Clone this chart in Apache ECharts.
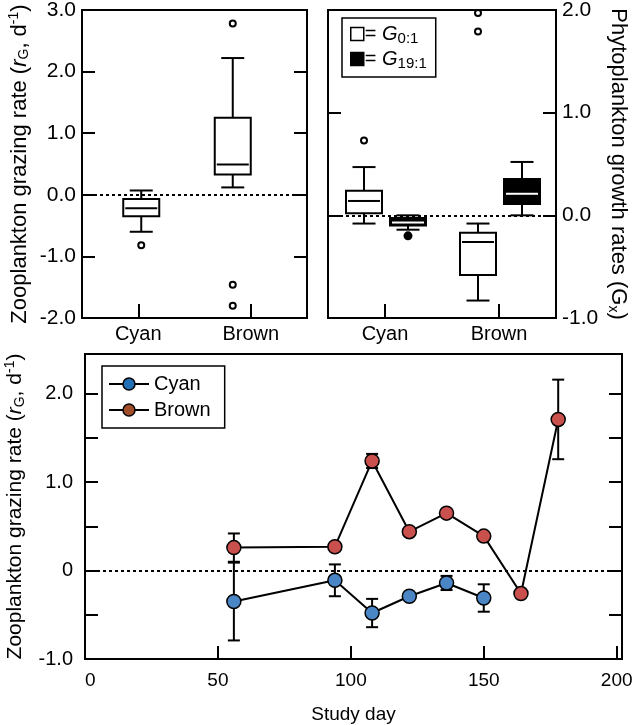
<!DOCTYPE html>
<html>
<head>
<meta charset="utf-8">
<script src="https://cdn.jsdelivr.net/npm/echarts@6/dist/echarts.min.js"></script>
<style>
  html, body { margin: 0; padding: 0; background: #fff; }
  #main { width: 632px; height: 725px; }
</style>
</head>
<body>
<div id="main"></div>
<script>
// box stats are [min, q1, median, q3, max]
const boxCats = ['Cyan', 'Brown'];
const grazeBox = [[-0.60, -0.35, -0.22, -0.07, 0.07], [0.12, 0.33, 0.49, 1.25, 2.22]];
const grazeOut = [[0, -0.82], [1, 2.78], [1, -1.46], [1, -1.80]];
const g01Box = [[-0.08, 0.02, 0.14, 0.24, 0.47], [-0.83, -0.58, -0.26, -0.17, -0.08]];
const g01Out = [[0, 0.73], [1, 1.97], [1, 1.79]];
const g191Box = [[-0.14, -0.10, -0.07, -0.025, 0.0], [0.0, 0.11, 0.21, 0.355, 0.52]];
const g191Out = [[0, -0.20]];

// time series, study day / grazing rate / error
const cyanDays = [56, 94, 108, 122, 136, 150];
const cyanRate = [-0.35, -0.11, -0.48, -0.29, -0.14, -0.31];
const cyanErr = [0.44, 0.18, 0.16, 0.03, 0.08, 0.155];
const brownDays = [56, 94, 108, 122, 136, 150, 164, 178];
const brownRate = [0.26, 0.27, 1.24, 0.44, 0.65, 0.39, -0.26, 1.71];
const brownErr = [0.16, 0.03, 0.08, 0.03, 0.03, 0.03, 0.03, 0.45];

const topTicksL = [3, 2, 1, 0, -1, -2];
const topTicksR = [2, 1, 0, -1];

var FONT = '"Liberation Sans", Arial, sans-serif';
var black = '#000';
var axLine = { show: true, onZero: false, lineStyle: { color: black, width: 2 } };
var axTick = { show: true, inside: true, length: 13, lineStyle: { color: black, width: 2 } };
var catTick = { show: true, inside: true, alignWithLabel: true, length: 14, lineStyle: { color: black, width: 2 } };
function richFor(size) {
    return {
        i: { fontSize: size, fontStyle: 'italic', color: black, fontFamily: FONT },
        sub: { fontSize: 14, color: black, padding: [10, 0, 0, 0], fontFamily: FONT },
        sup: { fontSize: 14, color: black, padding: [0, 0, 11, 0], fontFamily: FONT }
    };
}
var richLeg = {
    i: { fontSize: 20, fontStyle: 'italic', color: black, fontFamily: FONT },
    sub: { fontSize: 15, color: black, padding: [9, 0, 0, 0], fontFamily: FONT }
};
var zeroLine = {
    silent: true, symbol: 'none', label: { show: false },
    lineStyle: { color: black, width: 2, type: [3, 3] },
    data: [{ yAxis: 0 }]
};

function boxRender(shift, fill, medColor) {
    return function (params, api) {
        var ci = api.value(0);
        var x = api.coord([ci, 0])[0] + shift[ci];
        var ys = [1, 2, 3, 4, 5].map(function (d) { return api.coord([ci, api.value(d)])[1]; });
        var hw = 18, cw = 11.5;
        var ls = { stroke: black, lineWidth: 2 };
        return {
            type: 'group', children: [
                { type: 'line', shape: { x1: x, y1: ys[0], x2: x, y2: ys[4] }, style: ls },
                { type: 'line', shape: { x1: x - cw, y1: ys[0], x2: x + cw, y2: ys[0] }, style: ls },
                { type: 'line', shape: { x1: x - cw, y1: ys[4], x2: x + cw, y2: ys[4] }, style: ls },
                { type: 'rect', shape: { x: x - hw, y: ys[3], width: hw * 2, height: ys[1] - ys[3] },
                  style: { fill: fill, stroke: black, lineWidth: 2 } },
                { type: 'line', shape: { x1: x - hw + 2, y1: ys[2], x2: x + hw - 2, y2: ys[2] },
                  style: { stroke: medColor, lineWidth: 2 } }
            ]
        };
    };
}

function outRender(shift, fill, r) {
    return function (params, api) {
        var ci = api.value(0);
        var p = api.coord([ci, api.value(1)]);
        return { type: 'circle', shape: { cx: p[0] + shift[ci], cy: p[1], r: r },
                 style: { fill: fill, stroke: black, lineWidth: 2 } };
    };
}

function errRender(params, api) {
    var x = api.value(0), y = api.value(1), e = api.value(2);
    var t = api.coord([x, y + e]), b = api.coord([x, y - e]);
    var ls = { stroke: black, lineWidth: 2 };
    return {
        type: 'group', children: [
            { type: 'line', shape: { x1: t[0], y1: t[1], x2: b[0], y2: b[1] }, style: ls },
            { type: 'line', shape: { x1: t[0] - 6, y1: t[1], x2: t[0] + 6, y2: t[1] }, style: ls },
            { type: 'line', shape: { x1: b[0] - 6, y1: b[1], x2: b[0] + 6, y2: b[1] }, style: ls }
        ]
    };
}

function boxData(stats) {
    return stats.map(function (s, i) { return [i].concat(s); });
}
function zip3(a, b, c) {
    return a.map(function (v, i) { return [v, b[i], c[i]]; });
}

var gridBase = { show: true, borderColor: black, borderWidth: 2, outerBoundsMode: 'none', containLabel: false };

var option = {
    animation: false,
    textStyle: { fontFamily: FONT, color: black },
    grid: [
        Object.assign({ left: 82, top: 10, width: 225, height: 308 }, gridBase),
        Object.assign({ left: 328, top: 10, width: 228, height: 308 }, gridBase),
        Object.assign({ left: 85, top: 354, width: 537, height: 305 }, gridBase)
    ],
    legend: [
        {
            left: 342, top: 18, orient: 'vertical',
            padding: [6, 9, 6, 8], itemGap: 3, itemWidth: 13, itemHeight: 13,
            borderColor: black, borderWidth: 1.5, icon: 'rect',
            data: [
                { name: 'G0:1', itemStyle: { color: '#fff', borderColor: black, borderWidth: 1.5 } },
                { name: 'G19:1', itemStyle: { color: black, borderColor: black, borderWidth: 1.5 } }
            ],
            formatter: function (n) { return '= {i|G}{sub|' + n.slice(1) + '}'; },
            textStyle: { fontSize: 20, color: black, fontFamily: FONT, padding: [0, 0, 0, -4], rich: richLeg }
        },
        {
            left: 102, top: 366, orient: 'vertical',
            padding: [8, 14, 8, 6], itemGap: 6, itemWidth: 40, itemHeight: 15,
            borderColor: black, borderWidth: 1.5,
            data: [
                { name: 'Cyan', itemStyle: { color: '#2271B8', borderColor: black, borderWidth: 1.5 } },
                { name: 'Brown', itemStyle: { color: '#A24D2A', borderColor: black, borderWidth: 1.5 } }
            ],
            textStyle: { fontSize: 20, color: black, fontFamily: FONT }
        }
    ],
    xAxis: [
        {
            type: 'category', gridIndex: 0, data: boxCats,
            axisLine: axLine, axisTick: catTick,
            axisLabel: { color: black, fontSize: 20, margin: 6 }
        },
        {
            type: 'category', gridIndex: 1, data: boxCats,
            axisLine: axLine, axisTick: catTick,
            axisLabel: { color: black, fontSize: 20, margin: 6 }
        },
        {
            type: 'value', gridIndex: 2, min: 0, max: 202, interval: 50,
            axisLine: axLine, axisTick: axTick, splitLine: { show: false },
            axisLabel: {
                color: black, fontSize: 19, margin: 12, alignMinLabel: 'left',
                formatter: function (v) { return v % 50 === 0 ? String(v) : ''; }
            },
            name: 'Study day', nameLocation: 'middle', nameGap: 46,
            nameTextStyle: { fontSize: 19, color: black }
        }
    ],
    yAxis: [
        {
            type: 'value', gridIndex: 0, min: -2, max: 3, interval: 1,
            axisLine: axLine, axisTick: axTick, splitLine: { show: false },
            axisLabel: {
                color: black, fontSize: 21, margin: 6,
                formatter: function (v) { return topTicksL.indexOf(v) >= 0 ? v.toFixed(1) : ''; }
            },
            name: 'Zooplankton grazing rate ({i|r}{sub|G}, d{sup|-1})',
            nameLocation: 'middle', nameGap: 50,
            nameTextStyle: { fontSize: 22, color: black, rich: richFor(22) }
        },
        {
            type: 'value', gridIndex: 0, position: 'right', min: -2, max: 3, interval: 1,
            axisLine: axLine, axisTick: axTick, splitLine: { show: false }, axisLabel: { show: false }
        },
        {
            type: 'value', gridIndex: 1, position: 'left', min: -1, max: 2, interval: 1,
            axisLine: axLine, axisTick: axTick, splitLine: { show: false }, axisLabel: { show: false }
        },
        {
            type: 'value', gridIndex: 1, position: 'right', min: -1, max: 2, interval: 1,
            axisLine: axLine, axisTick: axTick, splitLine: { show: false },
            axisLabel: {
                color: black, fontSize: 21, margin: 6,
                formatter: function (v) { return topTicksR.indexOf(v) >= 0 ? v.toFixed(1) : ''; }
            },
            name: 'Phytoplankton growth rates (G{sub|x})',
            nameLocation: 'middle', nameGap: 50, nameRotate: -90,
            nameTextStyle: { fontSize: 22, color: black, rich: richFor(22) }
        },
        {
            type: 'value', gridIndex: 2, min: -1, max: 2.45, interval: 0.5,
            axisLine: axLine, axisTick: axTick, splitLine: { show: false },
            axisLabel: {
                color: black, fontSize: 20, margin: 12,
                formatter: function (v) {
                    if (v === 0) return '0';
                    return Number.isInteger(v) ? v.toFixed(1) : '';
                }
            },
            name: 'Zooplankton grazing rate ({i|r}{sub|G}, d{sup|-1})',
            nameLocation: 'middle', nameGap: 53,
            nameTextStyle: { fontSize: 21, color: black, rich: richFor(21) }
        },
        {
            type: 'value', gridIndex: 2, position: 'right', min: -1, max: 2.45, interval: 0.5,
            axisLine: axLine, axisTick: axTick, splitLine: { show: false }, axisLabel: { show: false }
        }
    ],
    series: [
        {
            type: 'custom', name: 'grazing', xAxisIndex: 0, yAxisIndex: 0,
            encode: { x: 0, y: [1, 2, 3, 4, 5] },
            data: boxData(grazeBox), renderItem: boxRender([3, -18], '#fff', black),
            markLine: zeroLine
        },
        {
            type: 'custom', name: 'grazing out', xAxisIndex: 0, yAxisIndex: 0,
            encode: { x: 0, y: 1 },
            data: grazeOut, renderItem: outRender([3, -18], '#fff', 3)
        },
        {
            type: 'custom', name: 'G0:1', xAxisIndex: 1, yAxisIndex: 3,
            encode: { x: 0, y: [1, 2, 3, 4, 5] },
            itemStyle: { color: '#fff' },
            data: boxData(g01Box), renderItem: boxRender([-21, -21], '#fff', black),
            markLine: zeroLine
        },
        {
            type: 'custom', name: 'G19:1', xAxisIndex: 1, yAxisIndex: 3,
            encode: { x: 0, y: [1, 2, 3, 4, 5] },
            itemStyle: { color: black },
            data: boxData(g191Box), renderItem: boxRender([23, 23], black, '#fff')
        },
        {
            type: 'custom', name: 'G0:1', xAxisIndex: 1, yAxisIndex: 3,
            encode: { x: 0, y: 1 },
            data: g01Out, renderItem: outRender([-21, -21], '#fff', 3)
        },
        {
            type: 'custom', name: 'G19:1', xAxisIndex: 1, yAxisIndex: 3,
            encode: { x: 0, y: 1 },
            data: g191Out, renderItem: outRender([23, 23], black, 3.5)
        },
        {
            type: 'custom', name: 'cyan err', xAxisIndex: 2, yAxisIndex: 4, z: 1,
            encode: { x: 0, y: 1 },
            data: zip3(cyanDays, cyanRate, cyanErr), renderItem: errRender
        },
        {
            type: 'custom', name: 'brown err', xAxisIndex: 2, yAxisIndex: 4, z: 1,
            encode: { x: 0, y: 1 },
            data: zip3(brownDays, brownRate, brownErr), renderItem: errRender
        },
        {
            type: 'line', name: 'Cyan', xAxisIndex: 2, yAxisIndex: 4, z: 3,
            data: cyanDays.map(function (d, i) { return [d, cyanRate[i]]; }),
            symbol: 'circle', symbolSize: 14,
            lineStyle: { color: black, width: 2 },
            itemStyle: { color: '#4A85C6', borderColor: black, borderWidth: 1.5 },
            markLine: zeroLine
        },
        {
            type: 'line', name: 'Brown', xAxisIndex: 2, yAxisIndex: 4, z: 3,
            data: brownDays.map(function (d, i) { return [d, brownRate[i]]; }),
            symbol: 'circle', symbolSize: 14,
            lineStyle: { color: black, width: 2 },
            itemStyle: { color: '#C9504D', borderColor: black, borderWidth: 1.5 }
        }
    ]
};

var myChart = echarts.init(document.getElementById('main'), null, { renderer: 'canvas' });
myChart.setOption(option);
</script>
</body>
</html>
